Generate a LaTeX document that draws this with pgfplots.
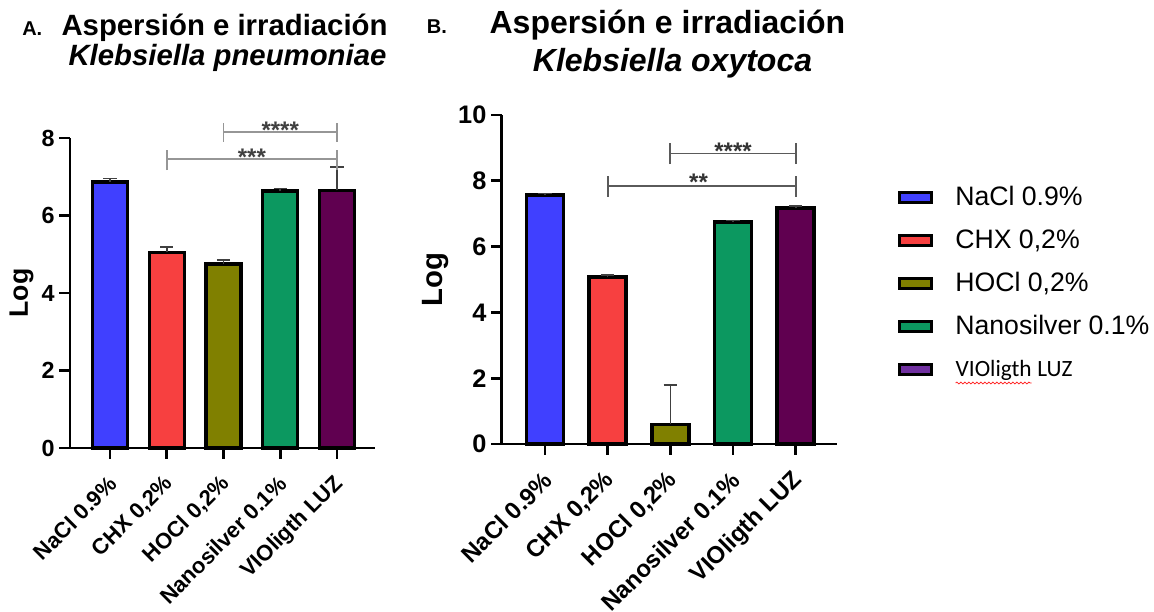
\documentclass[border=0pt]{standalone}
\usepackage{fontspec}
\setmainfont{Liberation Sans}
\newfontfamily\carlito{Carlito}
\usepackage{pgfplots}
\pgfplotsset{compat=1.18}
\usetikzlibrary{decorations.pathmorphing}

\definecolor{cblue}{RGB}{64,64,255}
\definecolor{cred}{RGB}{247,64,64}
\definecolor{colive}{RGB}{128,128,0}
\definecolor{cgreen}{RGB}{12,152,96}
\definecolor{cpurple}{RGB}{96,0,80}
\definecolor{cviolet}{RGB}{112,48,160}
\definecolor{brA}{RGB}{150,150,150}
\definecolor{brB}{RGB}{90,90,90}

\newcommand{\wavy}[1]{\tikz[baseline=(w.base)]{\node[inner sep=0pt, outer sep=0pt, minimum height=0pt, minimum width=0pt, anchor=base, font=\carlito\fontsize{17.5}{20}\selectfont] (w) {#1};\draw[red!85, line width=0.6pt, decorate, decoration={snake, amplitude=0.7pt, segment length=3pt}] ([yshift=-5pt]w.base west) -- ([yshift=-5pt]w.base east);}}

\pgfplotsset{
  gp/.style={
    scale only axis, axis lines=left,
    axis line style={-, line width=2.2pt},
    every outer x axis line/.append style={-},
    every outer y axis line/.append style={-},
    clip=false, tick align=outside,
    major tick length=8pt,
    tick style={line width=2.2pt, black},
    xtick={0,...,4},
    xticklabels={NaCl 0.9\%, {CHX 0,2\%}, {HOCl 0,2\%}, Nanosilver 0.1\%, VIOligth LUZ},
    /pgf/number format/assume math mode=true,
    ylabel={Log},
  },
  bb/.style={ybar, bar shift=0pt, draw=black, line width=2.6pt, fill=#1,
    error bars/y dir=plus, error bars/y explicit,
    error bars/error bar style={line width=1.2pt, black!75},
    error bars/error mark options={rotate=90, mark size=5pt, line width=1.2pt, black!75}},
}

\begin{document}
\begin{tikzpicture}
\path[use as bounding box] (0,0) rectangle (865.5pt,-458.25pt);

% Titles
\node[anchor=base west, inner sep=0pt, font=\fontsize{15}{17}\selectfont\bfseries] at (16.5pt,-26.25pt) {A.};
\node[anchor=base, font=\fontsize{22}{26}\selectfont\bfseries] at (168.4pt,-26.25pt) {Aspersión e irradiación};
\node[anchor=base, font=\fontsize{22}{26}\selectfont\bfseries\itshape] at (170.6pt,-49pt) {Klebsiella pneumoniae};
\node[anchor=base west, inner sep=0pt, font=\fontsize{15}{17}\selectfont\bfseries] at (320pt,-25pt) {B.};
\node[anchor=base, font=\fontsize{24}{28}\selectfont\bfseries] at (500.6pt,-25pt) {Aspersión e irradiación};
\node[anchor=base, font=\fontsize{24}{28}\selectfont\bfseries\itshape] at (504.4pt,-53.25pt) {Klebsiella oxytoca};

% Panel A
\begin{axis}[gp, at={(52.5pt,-336pt)}, anchor=south west,
  width=228.75pt, height=232.5pt,
  xmin=-0.705, xmax=4.67, ymin=0, ymax=8, ytick={0,2,...,8},
  bar width=26.25pt,
  yticklabel style={font=\fontsize{17.5}{20}\selectfont\bfseries},
  xticklabel style={font=\fontsize{16.5}{19}\selectfont\bfseries, rotate=45, anchor=east, inner sep=2pt, xshift=-8pt, yshift=-13pt},
  ylabel style={font=\fontsize{20}{24}\selectfont\bfseries, at={(axis description cs:-0.159,0.5)}, anchor=center},
]
\addplot[bb=cblue] coordinates {(0,6.87) +- (0,0.08)};
\addplot[bb=cred] coordinates {(1,5.05) +- (0,0.14)};
\addplot[bb=colive] coordinates {(2,4.75) +- (0,0.1)};
\addplot[bb=cgreen] coordinates {(3,6.63) +- (0,0.07)};
\addplot[bb=cpurple] coordinates {(4,6.65) +- (0,0.6)};
\draw[brA, line width=1.3pt] (axis cs:2,7.9) -- (axis cs:2,8.4);
\draw[brA, line width=1.3pt] (axis cs:4,7.9) -- (axis cs:4,8.4);
\draw[brA, line width=1.3pt] (axis cs:2,8.15) -- (axis cs:4,8.15);
\node[anchor=base, text=black!75, font=\fontsize{18}{20}\selectfont\bfseries] at (axis cs:3,8.0) {****};
\draw[brA, line width=1.3pt] (axis cs:1,7.17) -- (axis cs:1,7.69);
\draw[brA, line width=1.3pt] (axis cs:4,7.17) -- (axis cs:4,7.69);
\draw[brA, line width=1.3pt] (axis cs:1,7.45) -- (axis cs:4,7.45);
\node[anchor=base, text=black!75, font=\fontsize{18}{20}\selectfont\bfseries] at (axis cs:2.5,7.29) {***};
\end{axis}

% Panel B
\begin{axis}[gp, at={(376.3pt,-333pt)}, anchor=south west,
  width=251.5pt, height=246.75pt,
  xmin=-0.69, xmax=4.66, ymin=0, ymax=10, ytick={0,2,...,10},
  bar width=27.75pt,
  yticklabel style={font=\fontsize{19}{22}\selectfont\bfseries},
  xticklabel style={font=\fontsize{18}{21}\selectfont\bfseries, rotate=45, anchor=east, inner sep=2pt, xshift=-8pt, yshift=-13pt},
  ylabel style={font=\fontsize{22}{26}\selectfont\bfseries, at={(axis description cs:-0.197,0.5)}, anchor=center},
  legend image code/.code={\draw[#1, draw=black, line width=2.25pt] (0pt,-3.75pt) rectangle (24pt,3.75pt);},
  legend style={at={(1.1817,0.8162)}, anchor=north west, draw=none, fill=none,
    inner sep=0pt, row sep=0pt, cells={anchor=west},
    nodes={inner sep=0pt, minimum height=32.25pt, font=\fontsize{20}{24}\selectfont},
    /tikz/every odd column/.append style={column sep=16.5pt}},
]
\addlegendimage{fill=cblue}\addlegendentry{NaCl 0.9\%}
\addlegendimage{fill=cred}\addlegendentry{CHX 0,2\%}
\addlegendimage{fill=colive}\addlegendentry{HOCl 0,2\%}
\addlegendimage{fill=cgreen}\addlegendentry{Nanosilver 0.1\%}
\addlegendimage{fill=cviolet}\addlegendentry{{\carlito\fontsize{17.5}{20}\selectfont\wavy{VIOligth} LUZ}}
\addplot[bb=cblue, forget plot] coordinates {(0,7.57) +- (0,0.05)};
\addplot[bb=cred, forget plot] coordinates {(1,5.07) +- (0,0.06)};
\addplot[bb=colive, forget plot] coordinates {(2,0.6) +- (0,1.2)};
\addplot[bb=cgreen, forget plot] coordinates {(3,6.75) +- (0,0.04)};
\addplot[bb=cpurple, forget plot] coordinates {(4,7.18) +- (0,0.06)};
\draw[brB, line width=1.3pt] (axis cs:2,8.51) -- (axis cs:2,9.16);
\draw[brB, line width=1.3pt] (axis cs:4,8.51) -- (axis cs:4,9.16);
\draw[brB, line width=1.3pt] (axis cs:2,8.83) -- (axis cs:4,8.83);
\node[anchor=base, text=black!80, font=\fontsize{18}{20}\selectfont\bfseries] at (axis cs:3,8.66) {****};
\draw[brB, line width=1.3pt] (axis cs:1,7.52) -- (axis cs:1,8.15);
\draw[brB, line width=1.3pt] (axis cs:4,7.52) -- (axis cs:4,8.15);
\draw[brB, line width=1.3pt] (axis cs:1,7.84) -- (axis cs:4,7.84);
\node[anchor=base, text=black!80, font=\fontsize{18}{20}\selectfont\bfseries] at (axis cs:2.45,7.72) {**};
\end{axis}
\end{tikzpicture}
\end{document}
